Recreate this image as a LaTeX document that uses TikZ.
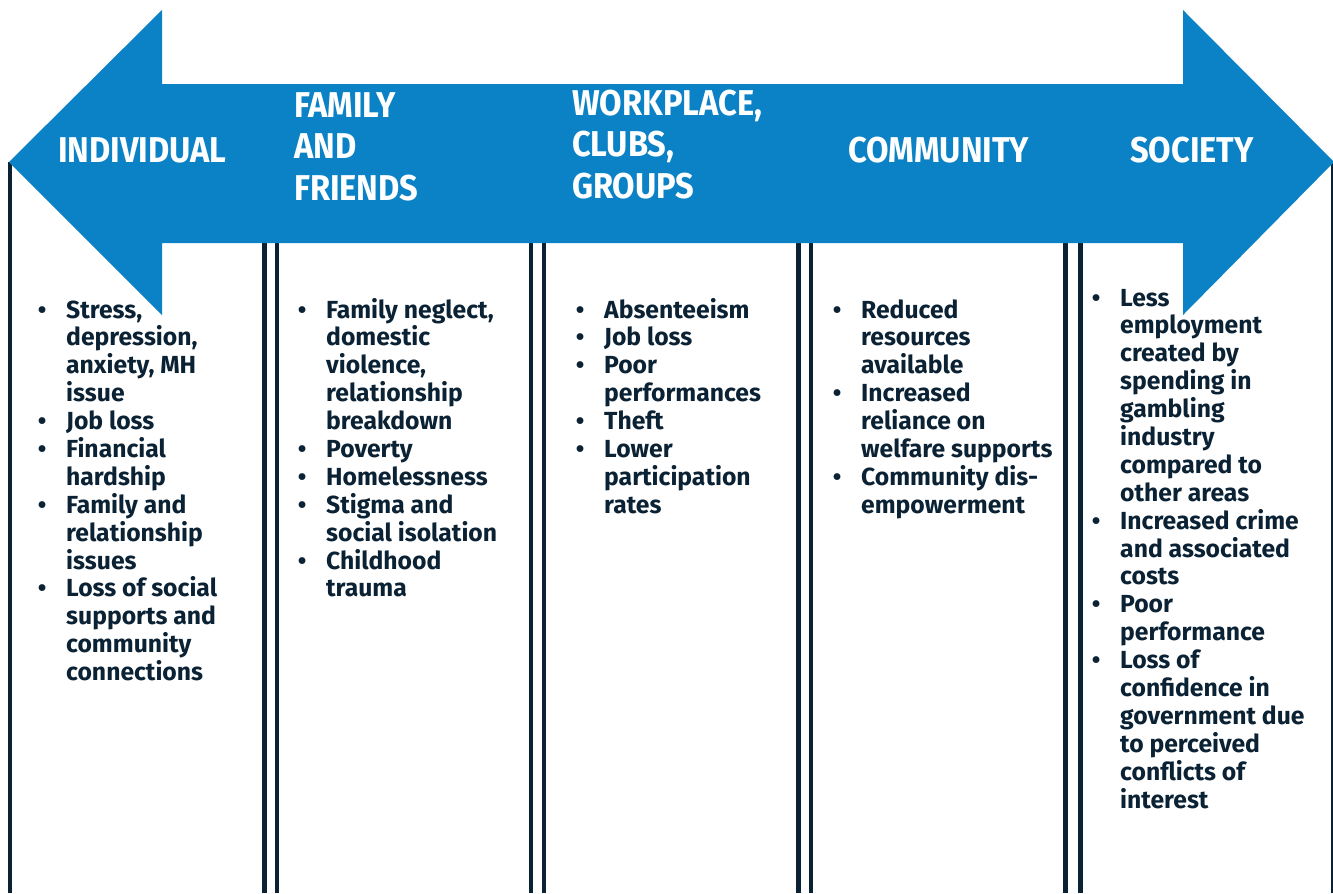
\documentclass[tikz,border=0pt]{standalone}
\usepackage{fontspec}
\setmainfont{Fira Sans}
\newfontfamily\headfont{Fira Sans}[FakeStretch=0.91]
\definecolor{arrowblue}{HTML}{0A82C5}
\definecolor{navy}{HTML}{0B2235}
\newcommand\bu{\par\hangindent=36bp\hangafter=1\noindent\makebox[36bp][l]{\makebox[24bp][c]{\textbullet}}\ignorespaces}
\newcommand\colbody[1]{\vtop{\hsize=300bp\raggedright\parindent=0pt#1\par}}
\begin{document}
\begin{tikzpicture}[x=1bp,y=-1bp,
  sepline/.style={line width=4.5bp, draw=navy},
  head/.style={text=white, font=\headfont\bfseries\fontsize{36}{42}\selectfont, anchor=base west, inner sep=0pt},
  body/.style={text=navy, font=\bfseries\fontsize{24.8}{28}\selectfont, anchor=base west, inner sep=0pt}]
\useasboundingbox (0,0) rectangle (1333,893);
\fill[white] (0,0) rectangle (1333,893);
% column lines
\coordinate (l0t) at (10,162);   \coordinate (l0b) at (10,893);
\coordinate (l1t) at (264.5,243); \coordinate (l1b) at (264.5,893);
\coordinate (l2t) at (277,243);   \coordinate (l2b) at (277,893);
\coordinate (l3t) at (531,243);   \coordinate (l3b) at (531,893);
\coordinate (l4t) at (544,243);   \coordinate (l4b) at (544,893);
\coordinate (l5t) at (798.5,243); \coordinate (l5b) at (798.5,893);
\coordinate (l6t) at (811,243);   \coordinate (l6b) at (811,893);
\coordinate (l7t) at (1065.5,243);\coordinate (l7b) at (1065.5,893);
\coordinate (l8t) at (1080.5,243);\coordinate (l8b) at (1080.5,893);
\coordinate (l9t) at (1332,162);  \coordinate (l9b) at (1332,893);
\foreach \i in {0,...,8} \draw[sepline] (l\i t) -- (l\i b);
\draw[navy, line width=2bp] (l9t) -- (l9b);
% double arrow
\fill[arrowblue] (9,162) -- (162,10) -- (162,84) -- (1183,84) -- (1183,10) -- (1334,162)
  -- (1183,315) -- (1183,243) -- (162,243) -- (162,315) -- cycle;
% headings
\node[head] (h1) at (58,162) {INDIVIDUAL};
\node[head] (h2) at (294,117) {\begin{tabular}[t]{@{}l@{}}FAMILY\\AND\\FRIENDS\end{tabular}};
\node[head] (h3) at (572,115) {\begin{tabular}[t]{@{}l@{}}WORKPLACE,\\CLUBS,\\GROUPS\end{tabular}};
\node[head] (h4) at (848,162) {COMMUNITY};
\node[head] (h5) at (1130,162) {SOCIETY};
% bodies
\node[body] (b1) at (30,318) {\colbody{%
\bu Stress,\newline depression,\newline anxiety, MH\newline issue
\bu Job loss
\bu Financial\newline hardship
\bu Family and\newline relationship\newline issues
\bu Loss of social\newline supports and\newline community\newline connections}};
\node[body] (b2) at (290,318) {\colbody{%
\bu Family neglect,\newline domestic\newline violence,\newline relationship\newline breakdown
\bu Poverty
\bu Homelessness
\bu Stigma and\newline social isolation
\bu Childhood\newline trauma}};
\node[body] (b3) at (568,318) {\colbody{%
\bu Absenteeism
\bu Job loss
\bu Poor\newline performances
\bu Theft
\bu Lower\newline participation\newline rates}};
\node[body] (b4) at (825,318) {\colbody{%
\bu Reduced\newline resources\newline available
\bu Increased\newline reliance on\newline welfare supports
\bu Community dis-\newline empowerment}};
\node[body] (b5) at (1084,306) {\colbody{%
\bu Less\newline employment\newline created by\newline spending in\newline gambling\newline industry\newline compared to\newline other areas
\bu Increased crime\newline and associated\newline costs
\bu Poor\newline performance
\bu Loss of\newline confidence in\newline government due\newline to perceived\newline conflicts of\newline interest}};
\end{tikzpicture}
\end{document}
